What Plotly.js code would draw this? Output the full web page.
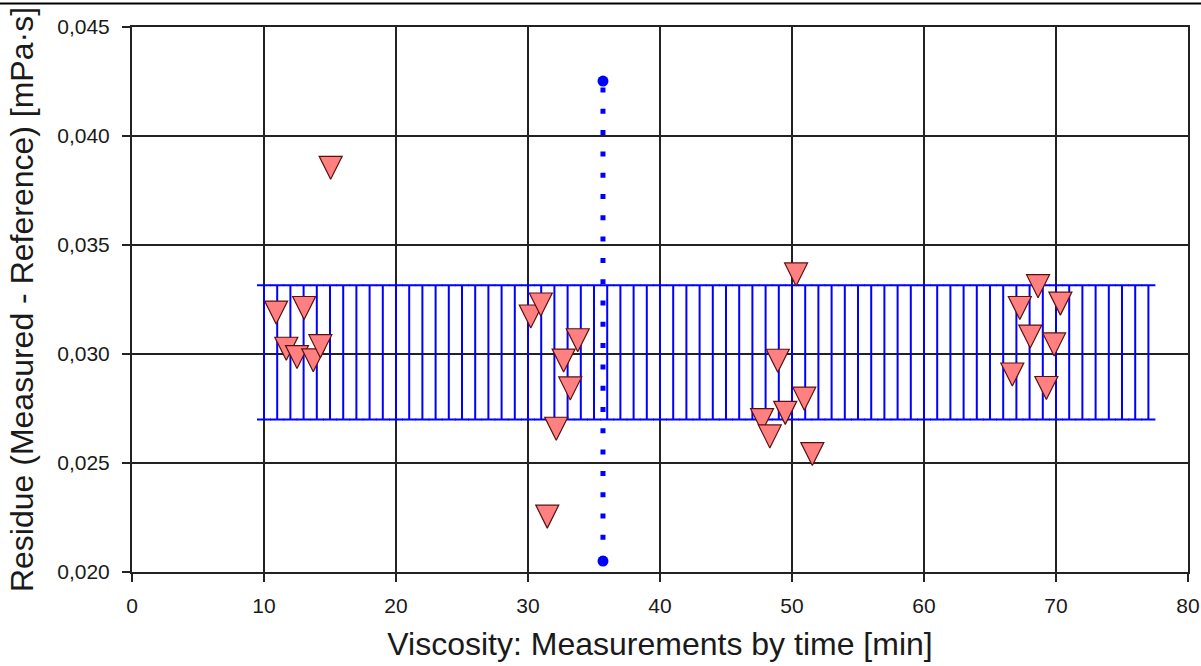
<!DOCTYPE html>
<html>
<head>
<meta charset="utf-8">
<script src="https://cdn.plot.ly/plotly-3.0.1.min.js"></script>
<style>
  html, body { margin: 0; padding: 0; background: #ffffff; }
  #chart { width: 1201px; height: 666px; }
</style>
</head>
<body>
<div id="chart"></div>
<script>
// Residues of the viscosity measurements (Measured - Reference), mPa·s, by time in min
const measTime = [
  10.92, 13.04, 11.69, 12.50, 13.73, 14.27, 15.05,
  30.21, 30.97, 33.77, 32.70, 33.20, 32.14, 31.46,
  50.31, 48.92, 50.93, 49.49, 47.73, 48.32, 51.54,
  68.64, 67.26, 70.33, 68.05, 69.86, 66.69, 69.27
];
const residue = [
  0.03190, 0.03211, 0.03024, 0.02986, 0.02971, 0.03036, 0.03854,
  0.03172, 0.03227, 0.03063, 0.02970, 0.02842, 0.02657, 0.02254,
  0.03365, 0.02969, 0.02795, 0.02730, 0.02697, 0.02622, 0.02541,
  0.03311, 0.03211, 0.03231, 0.03080, 0.03044, 0.02906, 0.02844
];

// Tolerance band (mean ± limit), drawn as one bar per minute
const bandTimes = [
  10, 11, 12, 13, 14, 15, 16, 17, 18, 19, 20, 21, 22, 23, 24, 25, 26,
  27, 28, 29, 30, 31, 32, 33, 34, 35, 36, 37, 38, 39, 40, 41, 42, 43,
  44, 45, 46, 47, 48, 49, 50, 51, 52, 53, 54, 55, 56, 57, 58, 59, 60,
  61, 62, 63, 64, 65, 66, 67, 68, 69, 70, 71, 72, 73, 74, 75, 76, 77
];
const bandLow = 0.02699;
const bandHigh = 0.03315;

// Vertical range marker
const rangeTime = [35.68, 35.68];
const rangeValue = [0.0205, 0.04252];

// Axis ticks
const xTicks = [0, 10, 20, 30, 40, 50, 60, 70, 80];
const yTicks = [0.020, 0.025, 0.030, 0.035, 0.040, 0.045];

const bandMid = (bandLow + bandHigh) / 2;
const bandHalf = (bandHigh - bandLow) / 2;

const band = {
  type: 'scatter',
  mode: 'markers',
  x: bandTimes,
  y: bandTimes.map(() => bandMid),
  marker: { size: 1, opacity: 0 },
  error_y: {
    type: 'constant',
    value: bandHalf,
    width: 7,
    thickness: 2,
    color: '#0000ff'
  },
  hoverinfo: 'skip',
  showlegend: false
};

const rangeLine = {
  type: 'scatter',
  mode: 'lines+markers',
  x: rangeTime,
  y: rangeValue,
  line: { color: '#0000ff', width: 5, dash: '5px,16.3px' },
  marker: { symbol: 'circle', size: 11, color: '#0000ff' },
  showlegend: false
};

const points = {
  type: 'scatter',
  mode: 'markers',
  x: measTime,
  y: residue,
  marker: {
    symbol: 'arrow-down',
    size: 23,
    standoff: 11.5,
    color: '#ff8080',
    line: { color: '#5a1010', width: 1.2 }
  },
  showlegend: false
};

const gridColor = '#222222';

const layout = {
  width: 1201,
  height: 666,
  margin: { l: 132, r: 13, t: 27, b: 94 },
  paper_bgcolor: '#ffffff',
  plot_bgcolor: '#ffffff',
  separators: ',.',
  font: { family: 'Liberation Sans, Arial, sans-serif', color: '#1a1a1a' },
  xaxis: {
    range: [0, 80],
    tickmode: 'array',
    tickvals: xTicks,
    ticktext: xTicks.map(String),
    showgrid: true,
    gridcolor: gridColor,
    gridwidth: 2,
    zeroline: false,
    showline: true,
    linecolor: gridColor,
    linewidth: 2,
    mirror: true,
    ticks: 'outside',
    ticklen: 8,
    tickwidth: 2,
    tickcolor: gridColor,
    ticklabelstandoff: 6,
    tickfont: { size: 21, color: '#1a1a1a' },
    title: {
      text: 'Viscosity: Measurements by time [min]',
      font: { size: 32, color: '#1a1a1a' },
      standoff: 16
    }
  },
  yaxis: {
    range: [0.020, 0.045],
    tickmode: 'array',
    tickvals: yTicks,
    tickformat: '.3f',
    showgrid: true,
    gridcolor: gridColor,
    gridwidth: 2,
    zeroline: false,
    showline: true,
    linecolor: gridColor,
    linewidth: 2,
    mirror: true,
    ticks: 'outside',
    ticklen: 8,
    tickwidth: 2,
    tickcolor: gridColor,
    ticklabelstandoff: 8,
    tickfont: { size: 21, color: '#1a1a1a' },
    title: {
      text: 'Residue (Measured - Reference) [mPa·s]',
      font: { size: 32, color: '#1a1a1a' },
      standoff: 14
    }
  },
  shapes: [
    {
      type: 'line', xref: 'paper', yref: 'paper',
      x0: -0.2, x1: 1.1, y0: 1.043, y1: 1.043,
      line: { color: '#000000', width: 2 }
    }
  ]
};

Plotly.newPlot('chart', [band, rangeLine, points], layout, { displayModeBar: false, staticPlot: true });
</script>
</body>
</html>
